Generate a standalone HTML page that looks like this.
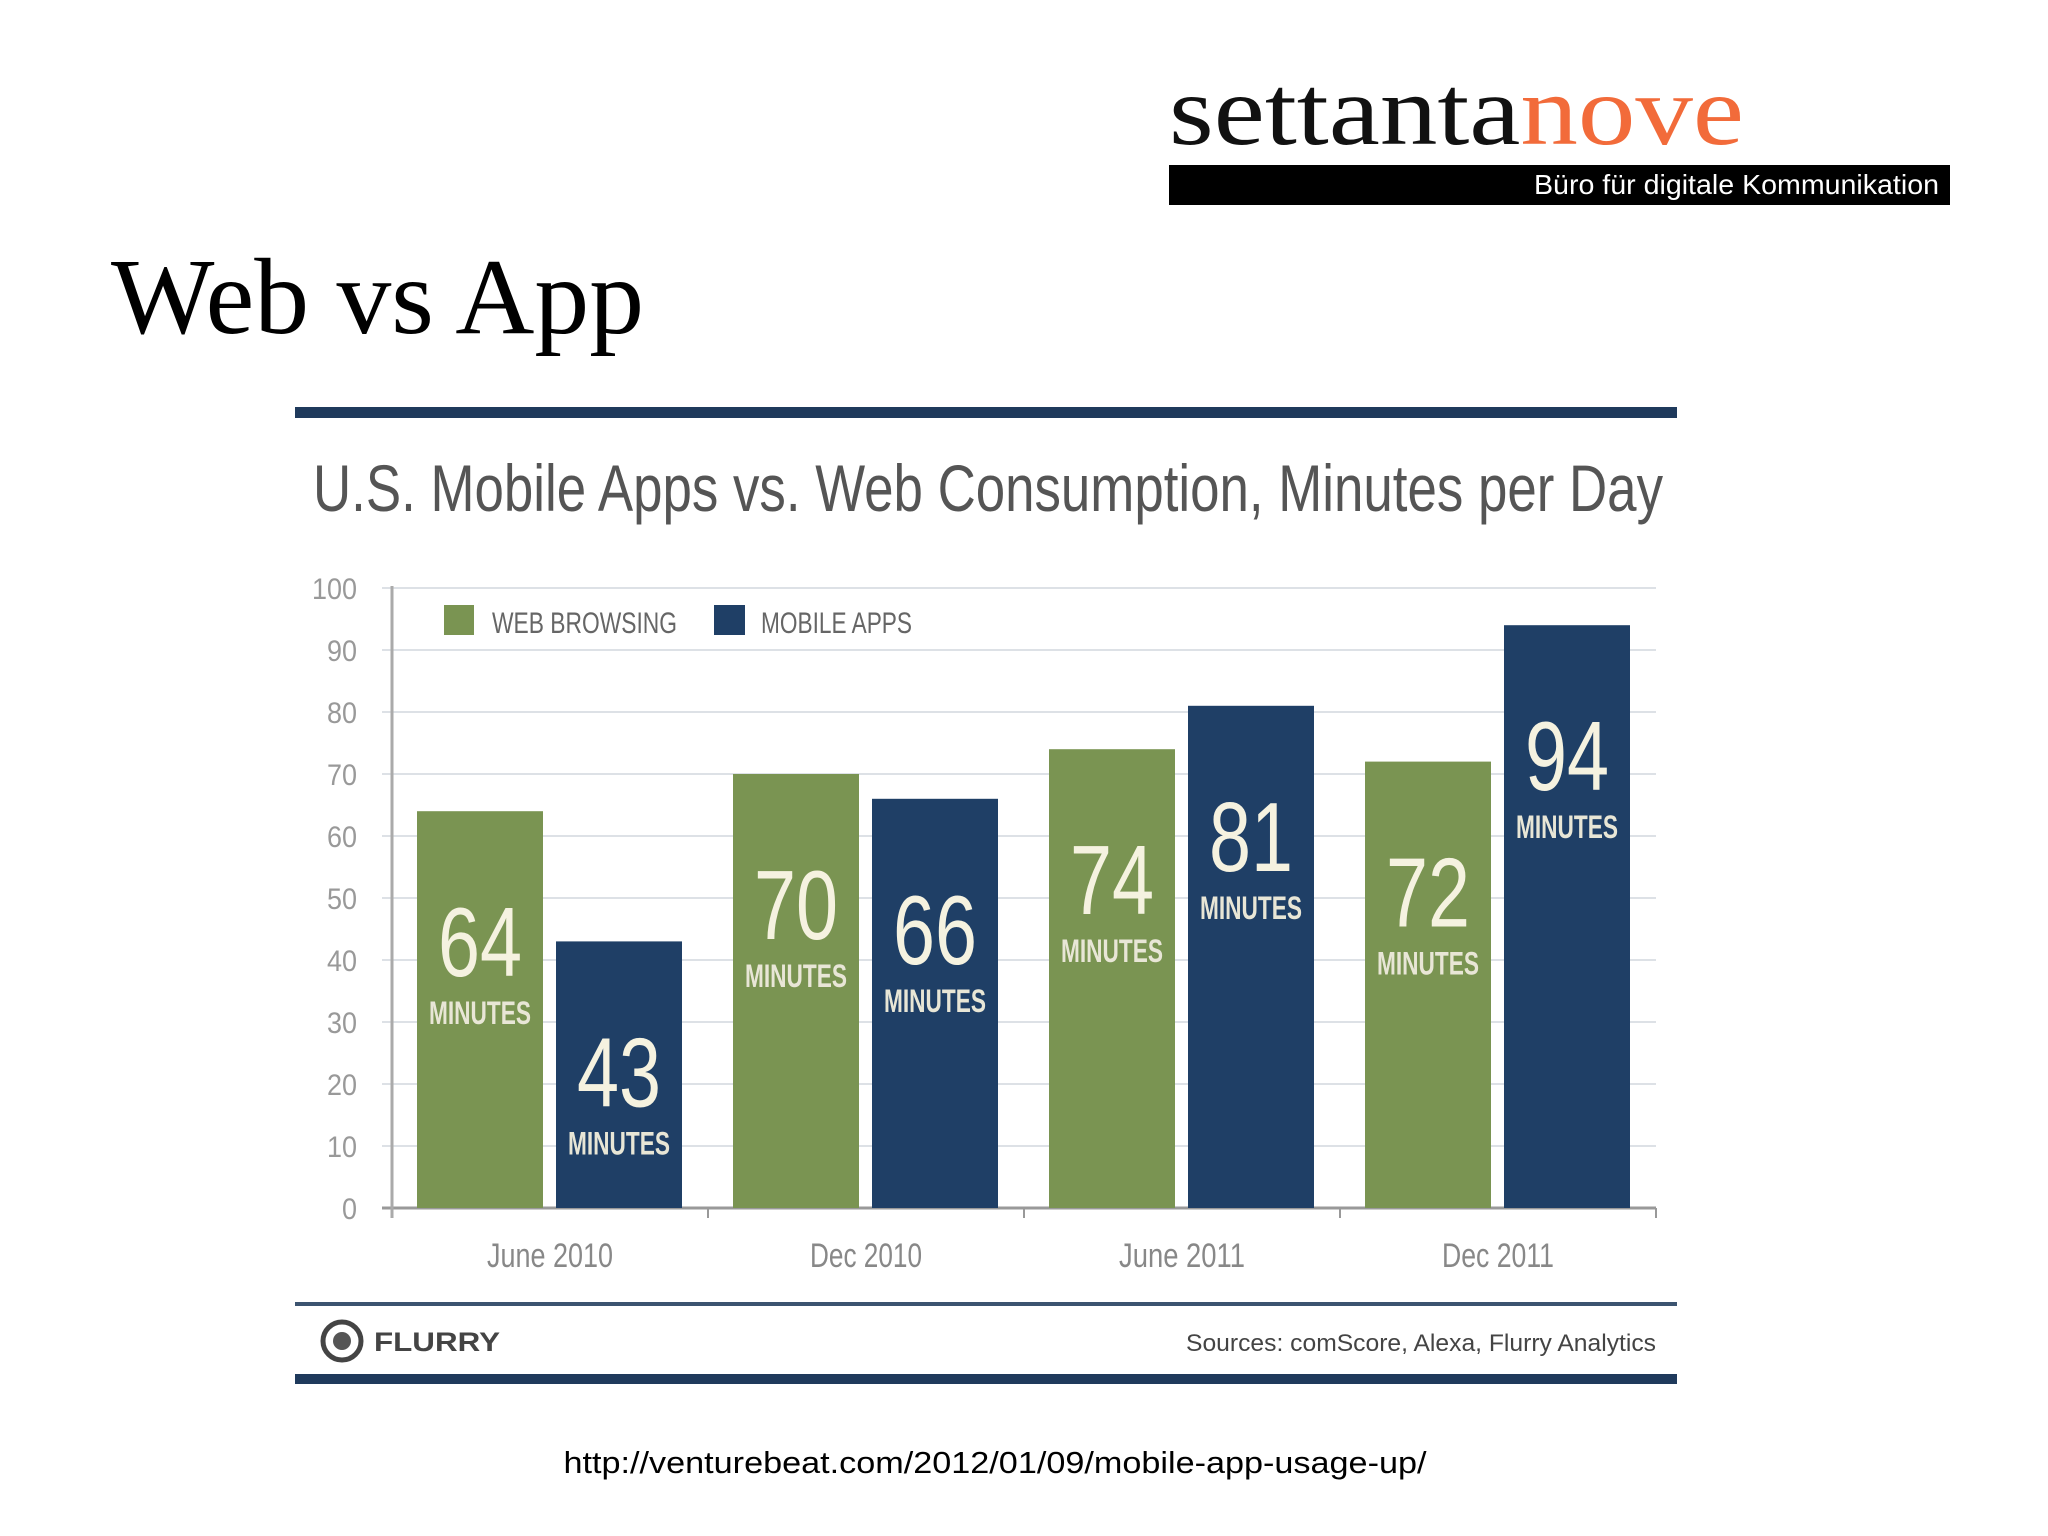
<!DOCTYPE html>
<html><head><meta charset="utf-8"><style>
html,body{margin:0;padding:0;background:#fff;}
svg{display:block;}
</style></head><body>
<svg id="chart" width="2048" height="1536" viewBox="0 0 2048 1536" xmlns="http://www.w3.org/2000/svg">
  <rect x="0" y="0" width="2048" height="1536" fill="#ffffff"/>
  <g>
    <text x="1169" y="144" font-family="Liberation Serif, serif" font-size="100" textLength="575" lengthAdjust="spacingAndGlyphs"><tspan fill="#111">settanta</tspan><tspan fill="#f26b3a">nove</tspan></text>
    <rect x="1169" y="165" width="781" height="40" fill="#000"/>
    <text x="1939" y="194" text-anchor="end" font-family="Liberation Sans, sans-serif" font-size="28" fill="#fff" textLength="405" lengthAdjust="spacingAndGlyphs">Büro für digitale Kommunikation</text>
  </g>
  <text x="111" y="333" font-family="Liberation Serif, serif" font-size="108" fill="#000" textLength="533" lengthAdjust="spacingAndGlyphs">Web vs App</text>
  <rect x="295" y="407" width="1382" height="11" fill="#1f3a5c"/>
  <text x="313" y="511" font-family="Liberation Sans Narrow, Liberation Sans, sans-serif" font-size="66" fill="#555" textLength="1350" lengthAdjust="spacingAndGlyphs">U.S. Mobile Apps vs. Web Consumption, Minutes per Day</text>
  <g id="plot"></g>
  <g>
    <rect x="444" y="605" width="30" height="30" fill="#7a9452"/>
    <text x="492" y="633" font-family="Liberation Sans Narrow, Liberation Sans, sans-serif" font-size="30" fill="#666" textLength="185" lengthAdjust="spacingAndGlyphs">WEB BROWSING</text>
    <rect x="714" y="605" width="31" height="30" fill="#1f3f66"/>
    <text x="761" y="633" font-family="Liberation Sans Narrow, Liberation Sans, sans-serif" font-size="30" fill="#666" textLength="151" lengthAdjust="spacingAndGlyphs">MOBILE APPS</text>
  </g>
  <rect x="295" y="1302" width="1382" height="4" fill="#3c5470"/>
  <g>
    <circle cx="342" cy="1341" r="19" fill="none" stroke="#444" stroke-width="5"/>
    <circle cx="342" cy="1341" r="9" fill="#555"/>
    <text x="374" y="1351" font-family="Liberation Sans, sans-serif" font-weight="bold" font-size="27" fill="#444" textLength="126" lengthAdjust="spacingAndGlyphs">FLURRY</text>
  </g>
  <text x="1656" y="1351" text-anchor="end" font-family="Liberation Sans Narrow, Liberation Sans, sans-serif" font-size="24" fill="#444" textLength="470" lengthAdjust="spacingAndGlyphs">Sources: comScore, Alexa, Flurry Analytics</text>
  <rect x="295" y="1374" width="1382" height="10" fill="#1f3a5c"/>
  <text x="995" y="1473" text-anchor="middle" font-family="Liberation Sans, sans-serif" font-size="31" fill="#000" textLength="863" lengthAdjust="spacingAndGlyphs">http://venturebeat.com/2012/01/09/mobile-app-usage-up/</text>
</svg>
<script>
const categories = ['June 2010', 'Dec 2010', 'June 2011', 'Dec 2011'];
const webValues = [64, 70, 74, 72];
const appValues = [43, 66, 81, 94];
const yTicks = [0, 10, 20, 30, 40, 50, 60, 70, 80, 90, 100];

const NS = 'http://www.w3.org/2000/svg';
const plot = document.getElementById('plot');
const X0 = 392, X1 = 1656, Y0 = 1208, Y1 = 588;
const bandW = (X1 - X0) / categories.length;
function yScale(v) { return Y0 - (v / 100) * (Y0 - Y1); }
function xBand(i) { return X0 + i * bandW; }
function mk(tag, attrs, text) {
  const el = document.createElementNS(NS, tag);
  for (const k in attrs) el.setAttribute(k, attrs[k]);
  if (text !== undefined) el.textContent = text;
  plot.appendChild(el);
  return el;
}
yTicks.forEach(t => {
  const y = yScale(t);
  const g = mk('line', {x1: 382, x2: X1, y1: y, y2: y, stroke: t === 0 ? '#999' : '#dde1e6', 'stroke-width': t === 0 ? 3 : 2});
  
  
  const l = mk('text', {x: 357, y: y + 11, 'text-anchor': 'end', 'font-family': 'Liberation Sans Narrow, Liberation Sans, sans-serif', 'font-size': 30, fill: '#999', textLength: String(t).length * 15, lengthAdjust: 'spacingAndGlyphs'}, String(t));
  
  
});
const ax = mk('line', {x1: X0, x2: X0, y1: Y1 - 2, y2: Y0 + 10, stroke: '#aaa', 'stroke-width': 3});


for (let i = 1; i <= categories.length; i++) {
  const tk = mk('line', {x1: xBand(i), x2: xBand(i), y1: Y0, y2: Y0 + 10, stroke: '#999', 'stroke-width': 2});
  
  
}
const barW = 126, pad = 25, gap = 13;
function drawBar(x, v, color, name) {
  const top = yScale(v);
  const r = mk('rect', {x: x, y: top, width: barW, height: Y0 - top, fill: color});
  
  
  const n = mk('text', {x: x + barW / 2, y: top + 165, 'text-anchor': 'middle', 'font-family': 'Liberation Sans Narrow, Liberation Sans, sans-serif', 'font-size': 98, fill: '#f5f2e0', textLength: 84, lengthAdjust: 'spacingAndGlyphs'}, String(v));
  
  
  const m = mk('text', {x: x + barW / 2, y: top + 213, 'text-anchor': 'middle', 'font-family': 'Liberation Sans Narrow, Liberation Sans, sans-serif', 'font-weight': 'bold', 'font-size': 32, fill: '#e8e6d6', textLength: 102, lengthAdjust: 'spacingAndGlyphs'}, 'MINUTES');
  
  
}
categories.forEach((c, i) => {
  const bx = xBand(i);
  drawBar(bx + pad, webValues[i], '#7a9452', 'bar-web-' + i);
  drawBar(bx + pad + barW + gap, appValues[i], '#1f3f66', 'bar-apps-' + i);
  const lab = mk('text', {x: bx + bandW / 2, y: 1267, 'text-anchor': 'middle', 'font-family': 'Liberation Sans Narrow, Liberation Sans, sans-serif', 'font-size': 34, fill: '#888', textLength: c.length * 14, lengthAdjust: 'spacingAndGlyphs'}, c);
  
  
});
</script>
</body></html>
